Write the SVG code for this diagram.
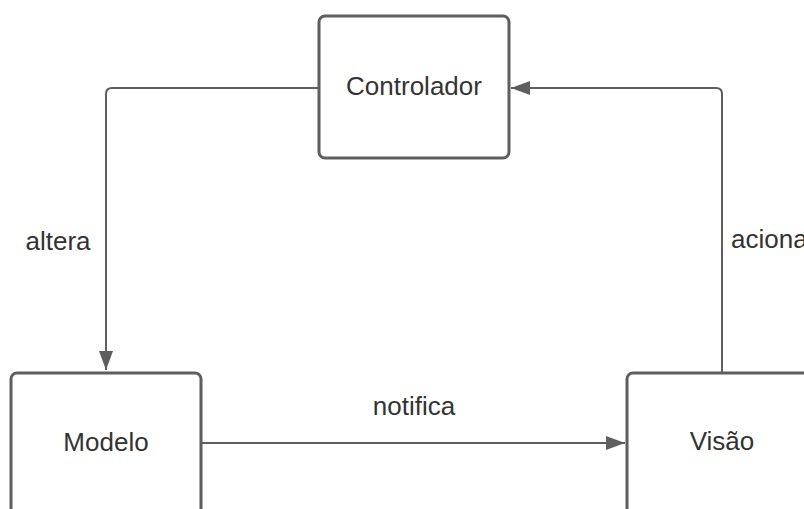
<svg xmlns="http://www.w3.org/2000/svg" width="804" height="509" viewBox="0 0 804 509">
<style>
.box{fill:#fff;stroke:#5e5e5e;stroke-width:3}
.lbl{font-family:"Liberation Sans",Arial,sans-serif;font-size:26px;fill:#333;text-anchor:middle}
.edge{fill:none;stroke:#5e5e5e;stroke-width:2}
</style>
<defs>
<marker id="ah" markerWidth="20" markerHeight="14" refX="19" refY="7" orient="auto" markerUnits="userSpaceOnUse">
<path d="M0,0 L19,7 L0,14 Z" fill="#5e5e5e"/>
</marker>
</defs>
<rect width="804" height="509" fill="#fff"/>
<g id="connectors">
<path class="edge" d="M319,88 H112 Q106,88 106,94 V370" marker-end="url(#ah)"/>
<path class="edge" d="M722,373 V94 Q722,88 716,88 H511" marker-end="url(#ah)"/>
<path class="edge" d="M201,443 H625" marker-end="url(#ah)"/>
<text class="lbl" x="58" y="250">altera</text>
<text class="lbl" x="731" y="248" style="text-anchor:start">aciona</text>
<text class="lbl" x="414" y="415">notifica</text>
</g>
<g id="controlador">
<rect class="box" x="319" y="16" width="190" height="142" rx="6"/>
<text class="lbl" x="414" y="95">Controlador</text>
</g>
<g id="modelo">
<rect class="box" x="11" y="373" width="190" height="160" rx="6"/>
<text class="lbl" x="106" y="451">Modelo</text>
</g>
<g id="visao">
<rect class="box" x="627" y="373" width="190" height="160" rx="6"/>
<text class="lbl" x="722" y="450">Visão</text>
</g>
</svg>
